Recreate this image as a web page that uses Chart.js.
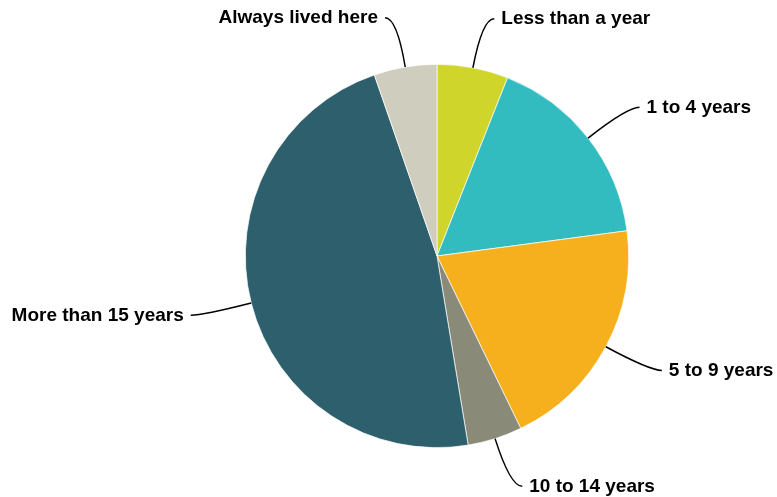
<!DOCTYPE html>
<html>
<head>
<meta charset="utf-8">
<script src="https://cdn.jsdelivr.net/npm/chart.js@4/dist/chart.umd.min.js"></script>
<style>
  html, body { margin: 0; padding: 0; background: #fff; }
  #wrap { width: 777px; height: 497px; }
</style>
</head>
<body>
<div id="wrap"><canvas id="pie"></canvas></div>
<script>
var categories = ["Less than a year", "1 to 4 years", "5 to 9 years", "10 to 14 years", "More than 15 years", "Always lived here"];
var shares = [6.0, 16.9, 19.9, 4.6, 47.3, 5.3];
var colors = ["#cfd52a", "#33bcc0", "#f6b01e", "#8a8a78", "#2e5f6c", "#cfcdbd"];

// labels outside the pie with curved leader lines
var outLabels = {
    id: 'outLabels',
    afterDraw: function(chart) {
        var ctx = chart.ctx;
        var arcs = chart.getDatasetMeta(0).data;
        ctx.save();
        ctx.font = 'bold 19px Arial, "Liberation Sans", sans-serif';
        ctx.textBaseline = 'middle';
        ctx.strokeStyle = '#000';
        ctx.fillStyle = '#000';
        ctx.lineWidth = 1.5;
        arcs.forEach(function(arc, i) {
            var mid = (arc.startAngle + arc.endAngle) / 2;
            var cx = arc.x, cy = arc.y, r = arc.outerRadius;
            var cos = Math.cos(mid), sin = Math.sin(mid);
            var x0 = cx + r * cos, y0 = cy + r * sin;
            var ex = cx + (r + 50) * cos, ey = cy + (r + 50) * sin;
            var right = cos >= 0;
            var x1 = ex + (right ? 12 : -12);
            ctx.beginPath();
            ctx.moveTo(x0, y0);
            ctx.quadraticCurveTo(ex, ey, x1, ey);
            ctx.stroke();
            ctx.textAlign = right ? 'left' : 'right';
            ctx.fillText(categories[i], x1 + (right ? 7 : -7), ey);
        });
        ctx.restore();
    }
};

var ctx = document.getElementById("pie");
var myChart = new Chart(ctx, {
    type: 'pie',
    data: {
        labels: categories,
        datasets: [{
            data: shares,
            backgroundColor: colors,
            borderColor: '#ffffff',
            borderWidth: 0.7
        }]
    },
    options: {
        responsive: true,
        maintainAspectRatio: false,
        animation: false,
        layout: { padding: { left: 245, right: 148, top: 64, bottom: 49 } },
        plugins: {
            legend: { display: false },
            tooltip: { enabled: false }
        }
    },
    plugins: [outLabels]
});
</script>
</body>
</html>
